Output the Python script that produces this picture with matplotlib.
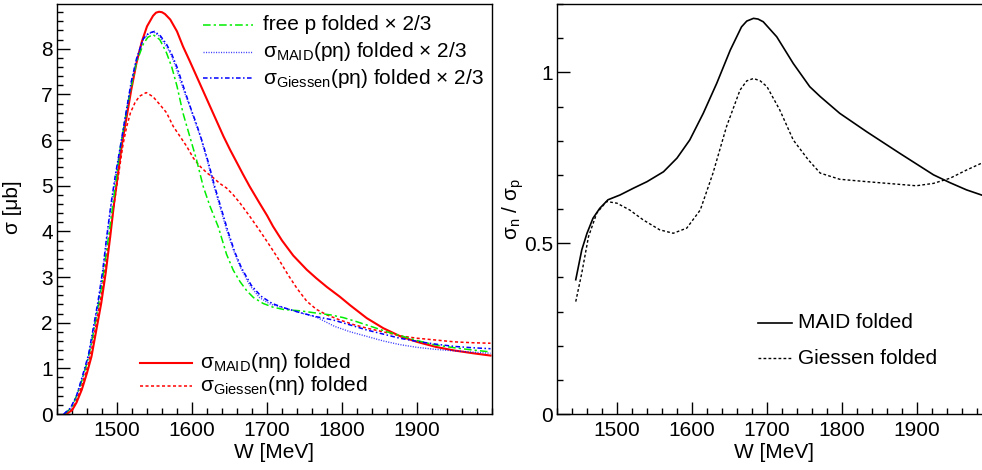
import matplotlib
matplotlib.use("Agg")
import matplotlib.pyplot as plt
from matplotlib.ticker import MultipleLocator

plt.rcParams['font.family'] = ['Liberation Sans', 'DejaVu Sans']
plt.rcParams['mathtext.fontset'] = 'custom'
plt.rcParams['mathtext.rm'] = 'Liberation Sans'
plt.rcParams['mathtext.it'] = 'Liberation Sans:italic'

# ---------------- left panel data: sigma [mub] vs W [MeV] ----------------
W_maid_n = [1432,1440,1446,1453,1460,1466,1472,1479,1485,1491,1496,1502,1507,1513,1519,1526,1533,1540,1548,1552,1556,1560,
            1564,1571,1580,1588,1597,1606,1615,1624,1633,1642,1651,1660,1668,1677,1690,1700,1708,1720,1735,1753,
            1766,1780,1797,1811,1833,1855,1878,1900,1925,1950,1975,1998]
S_maid_n = [0,0.08,0.25,0.53,0.9,1.26,1.8,2.43,3.1,3.89,4.6,5.35,5.95,6.52,7.1,7.69,8.15,8.49,8.72,8.79,8.81,8.8,
            8.76,8.64,8.38,8.05,7.73,7.4,7.07,6.74,6.41,6.08,5.78,5.5,5.25,4.98,4.62,4.35,4.11,3.8,3.47,3.16,
            2.97,2.78,2.57,2.38,2.1,1.88,1.7,1.58,1.47,1.39,1.33,1.28]

W_gie_n = [1432,1440,1446,1453,1460,1466,1472,1479,1485,1491,1497,1503,1508,1513,1518,1524,1530,1539,1548,1557,
           1566,1575,1584,1593,1602,1611,1620,1628,1637,1646,1655,1664,1677,1691,1704,1717,1728,1740,1753,1766,
           1780,1797,1815,1833,1855,1878,1900,1925,1950,1975,1998]
S_gie_n = [0,0.1,0.3,0.62,1.0,1.4,1.95,2.6,3.3,4.0,4.7,5.35,5.9,6.3,6.6,6.82,6.96,7.04,6.95,6.78,
           6.6,6.3,6.08,5.86,5.6,5.42,5.28,5.18,5.05,4.95,4.8,4.62,4.33,4.0,3.68,3.35,3.05,2.75,2.47,2.29,
           2.17,2.06,1.96,1.88,1.8,1.71,1.66,1.62,1.58,1.56,1.55]

W_free_p = [1430,1440,1446,1453,1460,1466,1472,1479,1485,1491,1497,1504,1513,1520,1526,1535,1541,1548,1557,1566,
            1573,1580,1588,1597,1606,1615,1624,1635,1646,1655,1664,1673,1682,1695,1708,1722,1744,1766,1785,1802,
            1820,1842,1860,1877,1900,1922,1950,1975,1998]
S_free_p = [0,0.15,0.4,0.72,1.12,1.55,2.1,2.75,3.45,4.15,4.9,5.79,6.67,7.25,7.7,8.1,8.25,8.31,8.2,7.91,
            7.6,7.18,6.59,6.08,5.57,4.98,4.55,4.1,3.5,3.15,2.9,2.7,2.55,2.42,2.34,2.29,2.26,2.21,2.17,2.11,
            2.02,1.9,1.8,1.72,1.61,1.52,1.45,1.4,1.36]

W_maid_p = [1429,1438,1446,1453,1462,1468,1475,1481,1486,1492,1498,1504,1513,1519,1526,1535,1542,1549,1557,1564,
            1571,1578,1584,1591,1597,1604,1611,1620,1628,1637,1646,1655,1664,1677,1690,1705,1722,1744,1766,1790,
            1811,1833,1855,1877,1900,1922,1944,1970,1998]
S_maid_p = [0,0.12,0.38,0.75,1.26,1.8,2.43,3.1,3.8,4.55,5.2,5.79,6.67,7.25,7.76,8.2,8.33,8.37,8.27,8.1,
            7.91,7.62,7.32,7.0,6.74,6.4,6.08,5.57,5.06,4.55,4.04,3.6,3.23,2.82,2.55,2.4,2.33,2.22,2.12,1.92,
            1.8,1.7,1.6,1.52,1.46,1.42,1.39,1.36,1.33]

W_gie_p = [1429,1438,1446,1453,1462,1468,1475,1481,1486,1492,1498,1504,1513,1519,1526,1535,1542,1550,1558,1566,
           1573,1580,1586,1593,1600,1606,1613,1622,1630,1639,1648,1657,1666,1679,1692,1707,1722,1744,1766,1788,
           1811,1833,1855,1877,1900,1925,1950,1975,1998]
S_gie_p = [0,0.13,0.4,0.78,1.3,1.85,2.5,3.15,3.85,4.6,5.25,5.82,6.7,7.28,7.78,8.22,8.34,8.38,8.28,8.1,
           7.88,7.6,7.3,6.95,6.62,6.35,6.0,5.5,5.0,4.5,4.0,3.55,3.2,2.82,2.58,2.42,2.33,2.22,2.13,2.06,
           1.95,1.84,1.75,1.66,1.59,1.53,1.48,1.45,1.43]

# ---------------- right panel data: sigma_n / sigma_p ----------------
W_ratio_maid = [1445,1453,1460,1468,1477,1488,1504,1522,1540,1562,1580,1597,1615,1633,1651,1666,1673,1682,1688,1695,1713,1735,
                1757,1771,1797,1833,1877,1922,1944,1966,1986]
R_ratio_maid = [0.393,0.48,0.529,0.573,0.602,0.627,0.641,0.661,0.68,0.709,0.749,0.802,0.88,0.968,1.065,1.133,1.15,1.158,1.156,1.148,1.104,1.026,
                0.958,0.929,0.88,0.826,0.763,0.70,0.677,0.656,0.641]

W_ratio_gie = [1445,1453,1462,1473,1486,1500,1517,1535,1557,1575,1593,1611,1628,1646,1664,1673,1682,1691,1700,1717,1735,1755,
               1771,1797,1833,1877,1899,1922,1944,1966,1986]
R_ratio_gie = [0.329,0.412,0.519,0.588,0.622,0.617,0.597,0.568,0.539,0.529,0.544,0.597,0.705,0.841,0.948,0.975,0.982,0.975,0.958,0.89,0.802,0.744,
               0.705,0.687,0.68,0.672,0.668,0.675,0.69,0.714,0.734]

x_ticks = [1500, 1600, 1700, 1800, 1900]

FS = 15
fig = plt.figure(figsize=(9.82, 4.70), dpi=100)
W_, H_ = 982.0, 470.0
axL = fig.add_axes([57 / W_, 56 / H_, 435 / W_, 410 / H_])
axR = fig.add_axes([557 / W_, 56 / H_, 435 / W_, 410 / H_])

RED, GREEN, BLUE = '#ff0000', '#00ee00', '#0000ff'

def style(ax):
    for side in ['top', 'right', 'left', 'bottom']:
        ax.spines[side].set_linewidth(1.0)
        ax.spines[side].set_color('black')
    ax.tick_params(which='both', direction='in', top=False, right=False, labelsize=FS, width=1.0)
    ax.tick_params(which='major', length=9)
    ax.tick_params(which='minor', length=4.5)
    ax.tick_params(axis='x', pad=5)
    ax.tick_params(axis='y', pad=3)
    ax.set_xticks(x_ticks)
    ax.xaxis.set_minor_locator(MultipleLocator(20))

# Left panel
ls_gdash = (0, (2.0, 1.6))
ls_greendd = (0, (5, 2, 1.5, 2))
ls_bdot = (0, (0.8, 1.0))
ls_bdd = (0, (3, 1.6, 1, 1.6))

axL.plot(W_maid_n, S_maid_n, color=RED, lw=1.5)
axL.plot(W_gie_n, S_gie_n, color=RED, lw=1.1, ls=ls_gdash)
axL.plot(W_free_p, S_free_p, color=GREEN, lw=1.1, ls=ls_greendd)
axL.plot(W_maid_p, S_maid_p, color=BLUE, lw=1.0, ls=ls_bdot, alpha=0.75)
axL.plot(W_gie_p, S_gie_p, color=BLUE, lw=1.1, ls=ls_bdd)
axL.set_xlim(1420, 2000)
axL.set_ylim(0, 8.98)
style(axL)
axL.set_yticks(range(0, 9))
axL.yaxis.set_minor_locator(MultipleLocator(0.2))
axL.set_xlabel('W [MeV]', fontsize=FS, labelpad=2)
axL.set_ylabel('σ [μb]', fontsize=FS)
axL.yaxis.set_label_coords((22 - 57) / 435.0, (414 - 207) / 410.0)

def leg_entry(ax, x0, x1, y, tx, label, **kw):
    ax.plot([x0, x1], [y, y], transform=ax.transAxes, clip_on=False, **kw)
    ax.text(tx, y, label, transform=ax.transAxes, fontsize=FS, va='center', ha='left')

def ax_x(ax_left, px):
    return (px - ax_left) / 435.0

def ax_y(py):
    return (414 - py) / 410.0

leg_entry(axL, ax_x(57, 203), ax_x(57, 253), ax_y(25), ax_x(57, 263),
          'free p folded × 2/3', color=GREEN, lw=1.1, ls=ls_greendd)
leg_entry(axL, ax_x(57, 203), ax_x(57, 253), ax_y(51.5), ax_x(57, 263),
          r'σ$_\mathregular{MAID}$(pη) folded × 2/3', color=BLUE, lw=1.0, ls=ls_bdot, alpha=0.75)
leg_entry(axL, ax_x(57, 203), ax_x(57, 253), ax_y(78), ax_x(57, 263),
          r'σ$_\mathregular{Giessen}$(pη) folded × 2/3', color=BLUE, lw=1.1, ls=ls_bdd)
leg_entry(axL, ax_x(57, 140), ax_x(57, 192), ax_y(363), ax_x(57, 200),
          r'σ$_\mathregular{MAID}$(nη) folded', color=RED, lw=1.5)
leg_entry(axL, ax_x(57, 140), ax_x(57, 192), ax_y(385.5), ax_x(57, 200),
          r'σ$_\mathregular{Giessen}$(nη) folded', color=RED, lw=1.1, ls=ls_gdash)

# Right panel
axR.plot(W_ratio_maid, R_ratio_maid, color='black', lw=1.2)
axR.plot(W_ratio_gie, R_ratio_gie, color='black', lw=1.0, ls=ls_gdash)
axR.set_xlim(1420, 2000)
axR.set_ylim(0, 1.2)
style(axR)
axR.set_yticks([0, 0.5, 1])
axR.set_yticklabels(['0', '0.5', '1'])
axR.yaxis.set_minor_locator(MultipleLocator(0.1))
axR.set_xlabel('W [MeV]', fontsize=FS, labelpad=2)
axR.set_ylabel(r'σ$_\mathregular{n}$ / σ$_\mathregular{p}$', fontsize=FS)
axR.yaxis.set_label_coords((526 - 557) / 435.0, (414 - 209) / 410.0)

leg_entry(axR, ax_x(557, 758), ax_x(557, 792), ax_y(322.7), ax_x(557, 798),
          'MAID folded', color='black', lw=1.2)
leg_entry(axR, ax_x(557, 758), ax_x(557, 792), ax_y(358.3), ax_x(557, 798),
          'Giessen folded', color='black', lw=1.0, ls=ls_gdash)

fig.savefig('out.png', dpi=100)
